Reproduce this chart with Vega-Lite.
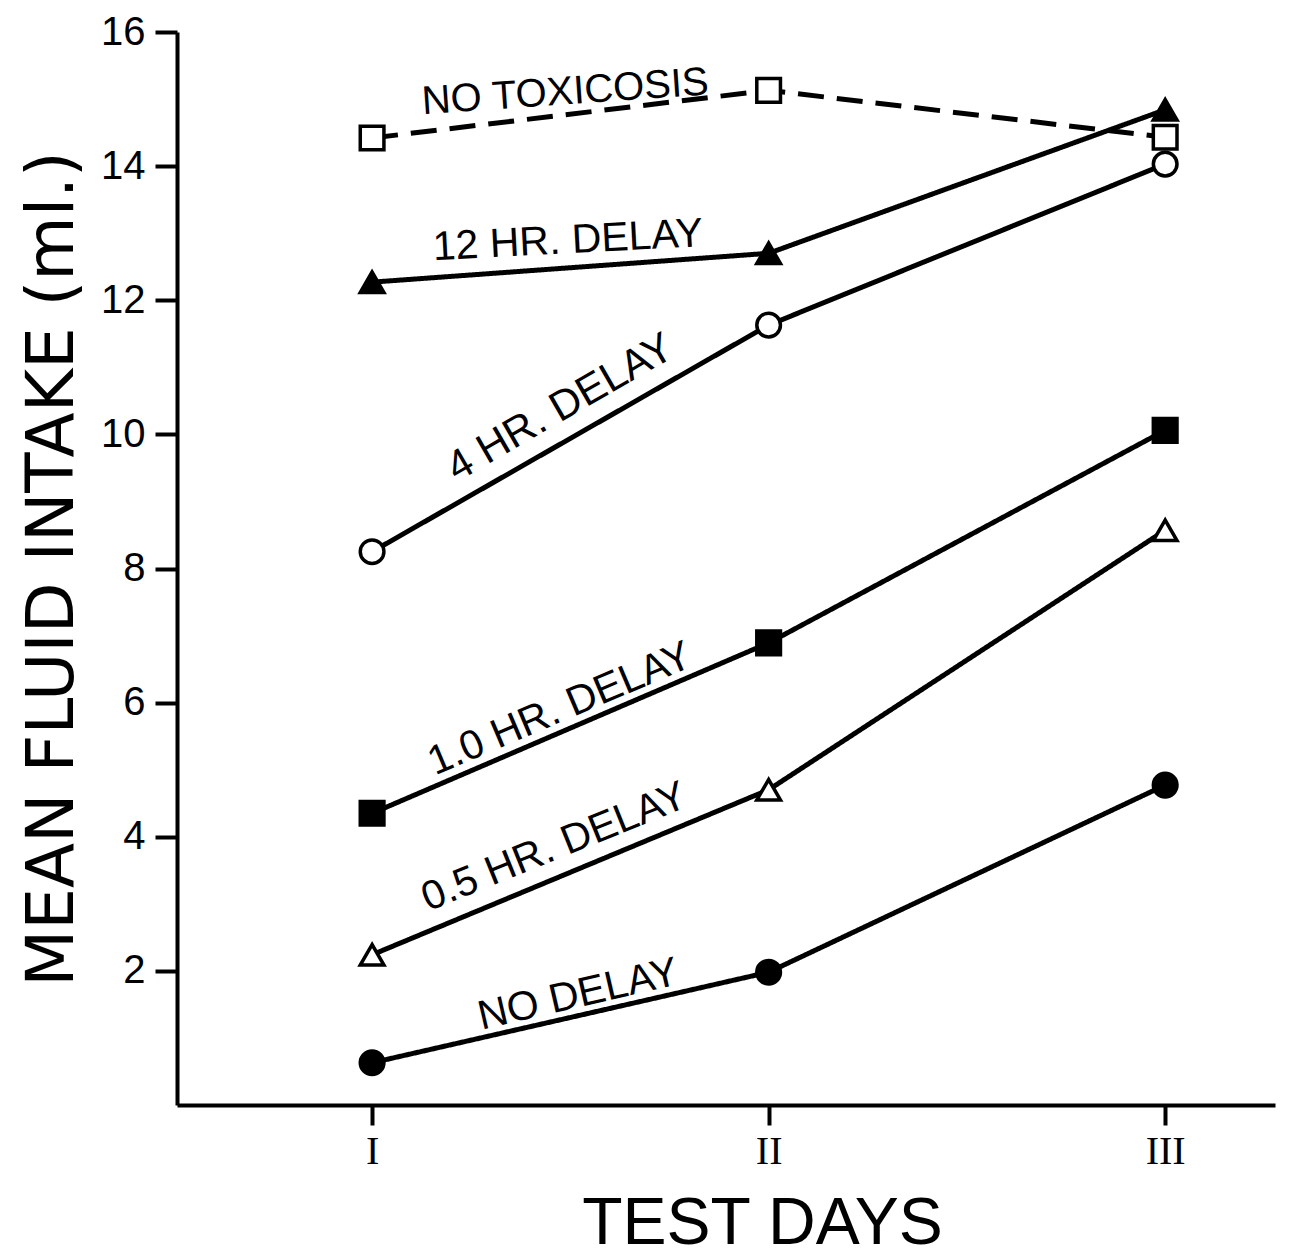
{
  "$schema": "https://vega.github.io/schema/vega-lite/v6.json",
  "width": 1098,
  "height": 1073,
  "autosize": "none",
  "padding": {"left": 177, "top": 32, "right": 14, "bottom": 153},
  "background": "white",
  "config": {"view": {"stroke": null}, "axis": {"grid": false}},
  "datasets": {
    "points": [
      {"series": "NO TOXICOSIS", "day": 1, "intake": 14.42},
      {"series": "NO TOXICOSIS", "day": 2, "intake": 15.13},
      {"series": "NO TOXICOSIS", "day": 3, "intake": 14.43},
      {"series": "12 HR. DELAY", "day": 1, "intake": 12.27},
      {"series": "12 HR. DELAY", "day": 2, "intake": 12.7},
      {"series": "12 HR. DELAY", "day": 3, "intake": 14.84},
      {"series": "4 HR. DELAY", "day": 1, "intake": 8.25},
      {"series": "4 HR. DELAY", "day": 2, "intake": 11.63},
      {"series": "4 HR. DELAY", "day": 3, "intake": 14.03},
      {"series": "1.0 HR. DELAY", "day": 1, "intake": 4.35},
      {"series": "1.0 HR. DELAY", "day": 2, "intake": 6.89},
      {"series": "1.0 HR. DELAY", "day": 3, "intake": 10.06},
      {"series": "0.5 HR. DELAY", "day": 1, "intake": 2.24},
      {"series": "0.5 HR. DELAY", "day": 2, "intake": 4.7},
      {"series": "0.5 HR. DELAY", "day": 3, "intake": 8.57},
      {"series": "NO DELAY", "day": 1, "intake": 0.63},
      {"series": "NO DELAY", "day": 2, "intake": 1.98},
      {"series": "NO DELAY", "day": 3, "intake": 4.77}
    ],
    "labels": [
      {"series": "NO TOXICOSIS", "lx": 1.487, "ly": 15.1},
      {"series": "12 HR. DELAY", "lx": 1.494, "ly": 12.88},
      {"series": "4 HR. DELAY", "lx": 1.474, "ly": 10.4},
      {"series": "1.0 HR. DELAY", "lx": 1.474, "ly": 5.9},
      {"series": "0.5 HR. DELAY", "lx": 1.46, "ly": 3.84},
      {"series": "NO DELAY", "lx": 1.52, "ly": 1.64}
    ]
  },
  "layer": [
    {
      "data": {"name": "points"},
      "mark": {"type": "line", "color": "black", "strokeWidth": 5},
      "encoding": {
        "x": {
          "field": "day", "type": "quantitative",
          "scale": {"domain": [0.508, 3.277], "nice": false, "zero": false},
          "axis": {
            "values": [1, 2, 3],
            "labelExpr": "datum.value == 1 ? 'I' : datum.value == 2 ? 'II' : 'III'",
            "title": "TEST DAYS",
            "domainColor": "black", "domainWidth": 4,
            "tickColor": "black", "tickWidth": 4, "tickSize": 20,
            "labelFont": "Liberation Serif", "labelFontSize": 40, "labelColor": "black",
            "labelPadding": 6,
            "titleFont": "Liberation Sans", "titleFontSize": 66, "titleFontWeight": "normal",
            "titleColor": "black", "titlePadding": 20, "titleX": 585
          }
        },
        "y": {
          "field": "intake", "type": "quantitative",
          "scale": {"domain": [0, 16], "nice": false},
          "axis": {
            "values": [2, 4, 6, 8, 10, 12, 14, 16],
            "format": "d",
            "title": "MEAN FLUID INTAKE (ml.)",
            "domainColor": "black", "domainWidth": 4,
            "tickColor": "black", "tickWidth": 4, "tickSize": 22,
            "labelFont": "Liberation Sans", "labelFontSize": 40, "labelColor": "black",
            "labelPadding": 10,
            "titleFont": "DejaVu Sans", "titleFontSize": 66, "titleFontWeight": "normal",
            "titleColor": "black", "titlePadding": 14
          }
        },
        "detail": {"field": "series"},
        "strokeDash": {
          "field": "series", "type": "nominal", "legend": null,
          "scale": {
            "domain": ["NO TOXICOSIS", "12 HR. DELAY", "4 HR. DELAY", "1.0 HR. DELAY", "0.5 HR. DELAY", "NO DELAY"],
            "range": [[26, 13], [1, 0], [1, 0], [1, 0], [1, 0], [1, 0]]
          }
        }
      }
    },
    {
      "data": {"name": "points"},
      "mark": {"type": "point", "stroke": "black", "strokeWidth": 3.5, "opacity": 1, "size": 560},
      "encoding": {
        "x": {"field": "day", "type": "quantitative"},
        "y": {"field": "intake", "type": "quantitative"},
        "shape": {
          "field": "series", "type": "nominal", "legend": null,
          "scale": {
            "domain": ["NO TOXICOSIS", "12 HR. DELAY", "4 HR. DELAY", "1.0 HR. DELAY", "0.5 HR. DELAY", "NO DELAY"],
            "range": ["square", "triangle-up", "circle", "square", "triangle-up", "circle"]
          }
        },
        "fill": {
          "field": "series", "type": "nominal", "legend": null,
          "scale": {
            "domain": ["NO TOXICOSIS", "12 HR. DELAY", "4 HR. DELAY", "1.0 HR. DELAY", "0.5 HR. DELAY", "NO DELAY"],
            "range": ["white", "black", "white", "black", "white", "black"]
          }
        }
      }
    },
    {
      "data": {"name": "labels"},
      "transform": [{"filter": "datum.series == 'NO TOXICOSIS'"}],
      "mark": {"type": "text", "font": "Liberation Sans", "fontSize": 40, "color": "black", "angle": -4, "align": "center", "baseline": "middle"},
      "encoding": {"x": {"field": "lx", "type": "quantitative"}, "y": {"field": "ly", "type": "quantitative"}, "text": {"field": "series"}}
    },
    {
      "data": {"name": "labels"},
      "transform": [{"filter": "datum.series == '12 HR. DELAY'"}],
      "mark": {"type": "text", "font": "Liberation Sans", "fontSize": 41, "color": "black", "angle": -3, "align": "center", "baseline": "middle"},
      "encoding": {"x": {"field": "lx", "type": "quantitative"}, "y": {"field": "ly", "type": "quantitative"}, "text": {"field": "series"}}
    },
    {
      "data": {"name": "labels"},
      "transform": [{"filter": "datum.series == '4 HR. DELAY'"}],
      "mark": {"type": "text", "font": "Liberation Sans", "fontSize": 42, "color": "black", "angle": -30, "align": "center", "baseline": "middle"},
      "encoding": {"x": {"field": "lx", "type": "quantitative"}, "y": {"field": "ly", "type": "quantitative"}, "text": {"field": "series"}}
    },
    {
      "data": {"name": "labels"},
      "transform": [{"filter": "datum.series == '1.0 HR. DELAY'"}],
      "mark": {"type": "text", "font": "Liberation Sans", "fontSize": 41, "color": "black", "angle": -23, "align": "center", "baseline": "middle"},
      "encoding": {"x": {"field": "lx", "type": "quantitative"}, "y": {"field": "ly", "type": "quantitative"}, "text": {"field": "series"}}
    },
    {
      "data": {"name": "labels"},
      "transform": [{"filter": "datum.series == '0.5 HR. DELAY'"}],
      "mark": {"type": "text", "font": "Liberation Sans", "fontSize": 41, "color": "black", "angle": -22, "align": "center", "baseline": "middle"},
      "encoding": {"x": {"field": "lx", "type": "quantitative"}, "y": {"field": "ly", "type": "quantitative"}, "text": {"field": "series"}}
    },
    {
      "data": {"name": "labels"},
      "transform": [{"filter": "datum.series == 'NO DELAY'"}],
      "mark": {"type": "text", "font": "Liberation Sans", "fontSize": 41, "color": "black", "angle": -13, "align": "center", "baseline": "middle"},
      "encoding": {"x": {"field": "lx", "type": "quantitative"}, "y": {"field": "ly", "type": "quantitative"}, "text": {"field": "series"}}
    }
  ]
}
